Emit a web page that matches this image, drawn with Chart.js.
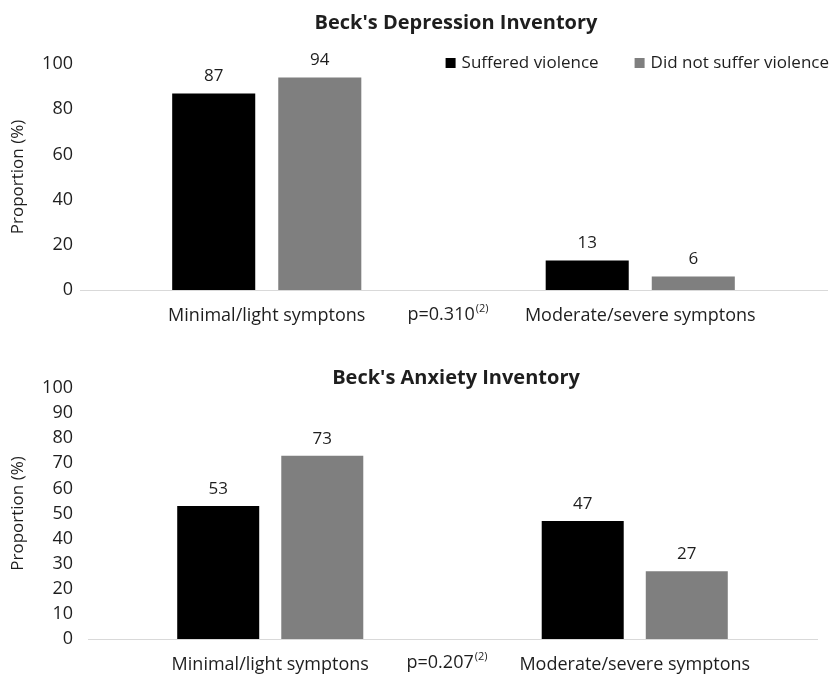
<!DOCTYPE html>
<html>
<head>
<meta charset="utf-8">
<script src="https://cdn.jsdelivr.net/npm/chart.js@4.4.0/dist/chart.umd.min.js"></script>
<style>
  body { margin: 0; background: #fff; }
  .wrap { position: absolute; left: 0; width: 832px; }
  #top { top: 0; height: 330px; }
  #bottom { top: 330px; height: 345px; }
</style>
</head>
<body>
<div class="wrap" id="top"><canvas id="depressionChart"></canvas></div>
<div class="wrap" id="bottom"><canvas id="anxietyChart"></canvas></div>
<script>
const categories = ["Minimal/light symptons", "Moderate/severe symptons"];
const seriesNames = ["Suffered violence", "Did not suffer violence"];
const seriesColors = ["#000000", "#7f7f7f"];

const depressionSuffered = [87, 13];
const depressionNotSuffered = [94, 6];
const depressionTicks = [0, 20, 40, 60, 80, 100];
const depressionP = "0.310";

const anxietySuffered = [53, 47];
const anxietyNotSuffered = [73, 27];
const anxietyTicks = [0, 10, 20, 30, 40, 50, 60, 70, 80, 90, 100];
const anxietyP = "0.207";

const FONT = "'Open Sans', sans-serif";
const TEXT = "#1e1e1e";

// value labels, title, p-value text and (top chart only) legend
const annotatePlugin = {
  id: "annotate",
  afterDatasetsDraw(chart, args, opts) {
    const ctx = chart.ctx;
    ctx.save();
    ctx.fillStyle = TEXT;
    ctx.textAlign = "center";
    ctx.textBaseline = "middle";

    ctx.font = `17px ${FONT}`;
    chart.data.datasets.forEach((ds, i) => {
      chart.getDatasetMeta(i).data.forEach((bar, j) => {
        ctx.fillText(ds.data[j], bar.x, bar.y - 17);
      });
    });

    ctx.font = `bold 20px ${FONT}`;
    ctx.fillText(opts.title, opts.titleX, opts.titleY);

    // p-value sits between the two groups
    const xs = chart.scales.x;
    const mid = (xs.getPixelForValue(0) + xs.getPixelForValue(1)) / 2 - 6;
    const main = "p=" + opts.pValue;
    ctx.font = `18px ${FONT}`;
    const wMain = ctx.measureText(main).width;
    ctx.font = `11px ${FONT}`;
    const wSup = ctx.measureText("(2)").width;
    const x0 = mid - (wMain + wSup) / 2;
    ctx.textAlign = "left";
    ctx.font = `18px ${FONT}`;
    ctx.fillText(main, x0, opts.pY);
    ctx.font = `11px ${FONT}`;
    ctx.fillText("(2)", x0 + wMain + 1, opts.pY - 6);

    if (opts.legend) {
      ctx.font = `17px ${FONT}`;
      let x = opts.legendRight;
      for (let i = chart.data.datasets.length - 1; i >= 0; i--) {
        const ds = chart.data.datasets[i];
        const w = ctx.measureText(ds.label).width;
        const tx = x - w;
        ctx.fillStyle = TEXT;
        ctx.fillText(ds.label, tx, opts.legendY);
        ctx.fillStyle = ds.backgroundColor;
        ctx.fillRect(tx - 16, opts.legendY - 5, 10, 10);
        x = tx - 16 - 36;
      }
    }
    ctx.restore();
  },
};

function buildChart(canvasId, suffered, notSuffered, ticks, o) {
  return new Chart(document.getElementById(canvasId), {
    type: "bar",
    data: {
      labels: categories,
      datasets: [
        {
          label: seriesNames[0],
          data: suffered,
          backgroundColor: seriesColors[0],
          categoryPercentage: o.catPct,
          barPercentage: o.barPct,
        },
        {
          label: seriesNames[1],
          data: notSuffered,
          backgroundColor: seriesColors[1],
          categoryPercentage: o.catPct,
          barPercentage: o.barPct,
        },
      ],
    },
    options: {
      responsive: true,
      maintainAspectRatio: false,
      animation: false,
      layout: { padding: { top: o.top, right: o.right, bottom: 0, left: 0 } },
      plugins: {
        legend: { display: false },
        tooltip: { enabled: false },
        title: { display: false },
        annotate: o.annotate,
      },
      scales: {
        x: {
          grid: { display: false, drawTicks: false },
          border: { display: true, color: "#d9d9d9", width: 1 },
          ticks: { color: TEXT, font: { family: FONT, size: 18 }, padding: o.xPad },
          afterFit: (s) => { s.height = o.xHeight; },
        },
        y: {
          min: 0,
          max: 100,
          grid: { display: false, drawTicks: false },
          border: { display: false },
          afterBuildTicks: (s) => { s.ticks = ticks.map((v) => ({ value: v })); },
          afterFit: (s) => { s.width = o.left; },
          ticks: { color: TEXT, font: { family: FONT, size: 18 }, padding: o.yPad },
          title: {
            display: true,
            text: "Proportion (%)",
            color: TEXT,
            font: { family: FONT, size: 17 },
            padding: { top: 8, bottom: 0 },
          },
        },
      },
    },
    plugins: [annotatePlugin],
  });
}

buildChart("depressionChart", depressionSuffered, depressionNotSuffered, depressionTicks, {
  left: 80, right: 5, top: 64, xHeight: 40, xPad: 15, yPad: 7,
  catPct: 0.568, barPct: 0.783,
  annotate: {
    title: "Beck's Depression Inventory", titleX: 456, titleY: 23,
    pValue: depressionP, pY: 315,
    legend: true, legendRight: 829, legendY: 63,
  },
});

buildChart("anxietyChart", anxietySuffered, anxietyNotSuffered, anxietyTicks, {
  left: 88, right: 15, top: 58, xHeight: 36, xPad: 15, yPad: 15,
  catPct: 0.571, barPct: 0.788,
  annotate: {
    title: "Beck's Anxiety Inventory", titleX: 456, titleY: 48,
    pValue: anxietyP, pY: 333,
    legend: false,
  },
});
</script>
</body>
</html>
